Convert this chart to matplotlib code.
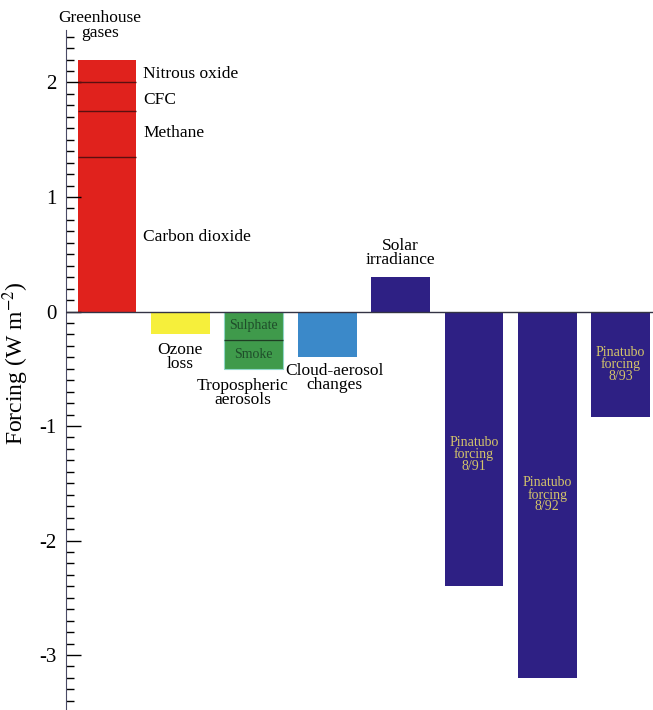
import numpy as np
import matplotlib.pyplot as plt

plt.rcParams['font.family'] = ['Liberation Serif', 'DejaVu Serif']
plt.rcParams['mathtext.fontset'] = 'stix'

# greenhouse gas components, stacked from the bottom
ghg_names = ["Carbon dioxide", "Methane", "CFC", "Nitrous oxide"]
ghg_vals = [1.35, 0.40, 0.25, 0.20]

# tropospheric aerosol components, stacked downward from zero
aer_names = ["Sulphate", "Smoke"]
aer_vals = [-0.25, -0.25]

ozone = -0.20
cloud = -0.40
solar = 0.30

pinatubo_labels = ["Pinatubo\nforcing\n8/91", "Pinatubo\nforcing\n8/92", "Pinatubo\nforcing\n8/93"]
pinatubo_vals = [-2.40, -3.20, -0.92]
pinatubo_text_y = [-1.25, -1.60, -0.46]

red = '#e0221d'
yellow = '#f6ef3b'
green = '#3f9a4b'
blue = '#3b89c9'
purple = '#2e2084'

fig = plt.figure(figsize=(6.53, 7.10), dpi=100)
ax = fig.add_axes([0.101, 0.0, 0.899, 0.958])

width = 0.8

# greenhouse gases, stacked
bottom = 0.0
for v in ghg_vals:
    ax.bar(0, v, width, bottom=bottom, color=red, linewidth=0)
    bottom += v
cum = np.cumsum(ghg_vals)
ax.hlines(cum[:-1], -width / 2, width / 2, color='#5a1010', lw=1.0)

# ozone
ax.bar(1, ozone, width, color=yellow, linewidth=0)

# aerosols
bottom = 0.0
for v in aer_vals:
    ax.bar(2, v, width, bottom=bottom, color=green, edgecolor='#8fd6c8', linewidth=0.8)
    bottom += v
acum = np.cumsum(aer_vals)
ax.hlines(acum[:-1], 2 - width / 2, 2 + width / 2, color='#1e3d22', lw=1.0)
ax.text(2, aer_vals[0] / 2, aer_names[0], ha='center', va='center', fontsize=10, color='#1f4d2a')
ax.text(2, acum[0] + aer_vals[1] / 2, aer_names[1], ha='center', va='center', fontsize=10, color='#1f4d2a')

# cloud-aerosol
ax.bar(3, cloud, width, color=blue, linewidth=0)

# solar
ax.bar(4, solar, width, color=purple, linewidth=0)

# pinatubo
for i, (v, lab, ty) in enumerate(zip(pinatubo_vals, pinatubo_labels, pinatubo_text_y)):
    ax.bar(5 + i, v, width, color=purple, linewidth=0)
    ax.text(5 + i, ty, lab, ha='center', va='center', fontsize=10, color='#d4c56a',
            linespacing=0.85)

# zero line
ax.axhline(0, color='#333344', lw=1.0, zorder=3)

# labels
ax.text(-0.1, 2.36, "Greenhouse\ngases", ha='center', va='bottom', fontsize=12.5,
        linespacing=0.9, clip_on=False)
ghg_label_y = [0.65, 1.56, 1.85, 2.07]
for name, y in zip(ghg_names, ghg_label_y):
    ax.text(0.49, y, name, ha='left', va='center', fontsize=12.5)
ax.text(1.0, -0.27, "Ozone\nloss", ha='center', va='top', fontsize=12.5, linespacing=0.8)
ax.text(1.85, -0.58, "Tropospheric\naerosols", ha='center', va='top', fontsize=12.5, linespacing=0.8)
ax.text(3.1, -0.45, "Cloud-aerosol\nchanges", ha='center', va='top', fontsize=12.5, linespacing=0.8)
ax.text(4.0, 0.38, "Solar\nirradiance", ha='center', va='bottom', fontsize=12.5, linespacing=0.8)

ax.set_xlim(-0.56, 7.44)
ax.set_ylim(-3.48, 2.46)
ax.set_xticks([])
for s in ['top', 'right', 'bottom']:
    ax.spines[s].set_visible(False)
ax.spines['left'].set_color('#4a4a66')
ax.set_yticks([-3, -2, -1, 0, 1, 2])
ax.set_yticklabels(['-3', '-2', '-1', '0', '1', '2'])
ax.set_yticks(np.arange(-34, 25) / 10.0, minor=True)
ax.tick_params(axis='y', which='major', direction='in', length=11, width=1, labelsize=15, pad=7)
ax.tick_params(axis='y', which='minor', direction='in', length=5.5, width=1)
ax.set_ylabel("Forcing (W m$^{-2}$)", fontsize=17)
ax.yaxis.label.set_verticalalignment('center')
ax.yaxis.set_label_coords(-0.085, 0.51)

plt.savefig("out.png", dpi=100)
